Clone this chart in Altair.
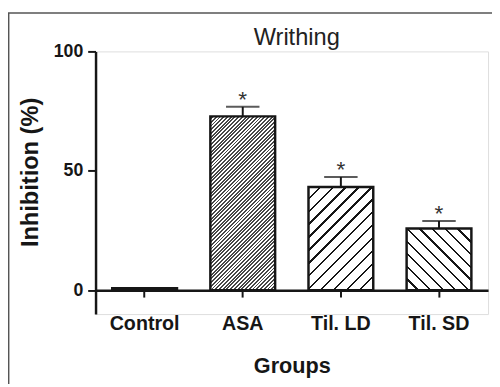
import math
import altair as alt
import pandas as pd

# ---- data ----
groups = ["Control", "ASA", "Til. LD", "Til. SD"]
means = [0.8, 72.8, 43.2, 25.8]
sems = [0.0, 4.0, 4.2, 3.2]
stars = ["", "*", "*", "*"]

title_text = "Writhing"
x_title = "Groups"
y_title = "Inhibition (%)"
y_ticks = [0, 50, 100]
y_domain = [-10, 100]

# ---- layout / style ----
W, H = 399, 267
PAD_L, PAD_T, PAD_R, PAD_B = 89, 41, 4, 71
P_INNER, P_OUTER = 0.34, 0.17
STEP = W / (len(groups) - P_INNER + 2 * P_OUTER)
BANDW = STEP * (1 - P_INNER)
PPU = H / (y_domain[1] - y_domain[0])
ZERO_OFFSET = -(H - y_domain[1] * PPU)
FONT = "Liberation Sans"
INK = "#161616"


def hatch(value, periods, frac, direction, ink=INK):
    """Striped fill built as a hard-stop linear gradient (45 degree lines).
    `periods` stripes span the bar's diagonal extent."""
    w = BANDW
    h = max(value * PPU, 1.0)
    k = (w + h) / (w * w + h * h)
    n = periods
    stops = []
    for i in range(n):
        a = i / n
        b = (i + 1 - frac) / n
        c = (i + 1) / n
        stops.append({"offset": round(a, 6), "color": "white"})
        stops.append({"offset": round(b, 6), "color": "white"})
        stops.append({"offset": round(b, 6), "color": ink})
        stops.append({"offset": round(c, 6), "color": ink})
    if direction == "/":
        g = {"gradient": "linear", "x1": 0, "y1": 0, "x2": k * w, "y2": k * h}
    else:
        g = {"gradient": "linear", "x1": 0, "y1": 1, "x2": k * w, "y2": 1 - k * h}
    g["stops"] = stops
    return g


def periods_for(value, period_h):
    return max(1, round((BANDW + value * PPU) / period_h))


df = pd.DataFrame({"group": groups, "mean": means, "sem": sems, "star": stars})

x_axis = alt.Axis(
    title=x_title, labelAngle=0, labelFont=FONT, labelFontSize=20,
    labelFontWeight="bold", labelColor=INK, labelPadding=17,
    tickSize=7, tickWidth=2, tickColor=INK, domainColor=INK, domainWidth=2.5,
    offset=ZERO_OFFSET, titleFont=FONT, titleFontSize=22, titleFontWeight="bold",
    titleColor=INK, titleBaseline="alphabetic", titleY=83.3, titleX=W / 2,
)
y_axis = alt.Axis(
    title=y_title, values=y_ticks, grid=False, labelFont=FONT, labelFontSize=18,
    labelFontWeight="bold", labelColor=INK, labelPadding=5,
    tickSize=8, tickWidth=2, tickColor=INK, domainColor=INK, domainWidth=2.5,
    titleFont=FONT, titleFontSize=24, titleFontWeight="bold", titleColor=INK,
    titleBaseline="alphabetic", titleAlign="center", titleX=-58.5, titleY=122.5,
)
x_enc = alt.X("group:N", sort=groups, axis=x_axis,
              scale=alt.Scale(paddingInner=P_INNER, paddingOuter=P_OUTER))
y_scale = alt.Scale(domain=y_domain, nice=False, zero=False)

base = alt.Chart(df)

fills = {
    "Control": "white",
    # 64 stripes -> 4 gradient-table entries per stripe (regular rendering)
    "ASA": hatch(means[1], 64, 0.5, "/", ink="#474747"),
    "Til. LD": hatch(means[2], periods_for(means[2], 13.3), 2.4 / 13.3, "/"),
    "Til. SD": hatch(means[3], periods_for(means[3], 13.3), 2.4 / 13.3, "\\"),
}

layers = []
for gname in groups:
    layers.append(
        base.transform_filter(alt.datum.group == gname)
        .mark_bar(fill=fills[gname], stroke=INK, strokeWidth=2.5, strokeJoin="miter")
        .encode(x=x_enc, y=alt.Y("mean:Q", scale=y_scale, axis=y_axis))
    )

err = base.transform_filter(alt.datum.sem > 0).transform_calculate(
    upper="datum.mean + datum.sem"
)
layers.append(
    err.mark_rule(color=INK, strokeWidth=2).encode(
        x=x_enc, y=alt.Y("mean:Q", scale=y_scale, axis=y_axis), y2="upper:Q"
    )
)
layers.append(
    err.mark_tick(orient="horizontal", size=34, thickness=2, color=INK).encode(
        x=x_enc, y=alt.Y("upper:Q", scale=y_scale, axis=y_axis)
    )
)
layers.append(
    err.mark_text(font=FONT, fontSize=23, color="#333", baseline="alphabetic", dy=0).encode(
        x=x_enc, y=alt.Y("upper:Q", scale=y_scale, axis=y_axis), text="star:N"
    )
)

one = alt.Chart(pd.DataFrame({"k": [0]}))
layers.append(
    one.mark_text(font=FONT, fontSize=24, color="#222", baseline="alphabetic", align="center")
    .encode(x=alt.value(W / 2 + 5), y=alt.value(-7), text=alt.value(title_text))
)
layers.append(
    one.mark_rule(color="#555", strokeWidth=1.5).encode(
        x=alt.value(-PAD_L + 0.7), y=alt.value(-39), y2=alt.value(H + PAD_B)
    )
)
layers.append(
    one.mark_rule(color="#555", strokeWidth=1.5).encode(
        x=alt.value(-PAD_L), x2=alt.value(W + PAD_R), y=alt.value(-39)
    )
)

chart = (
    alt.layer(*layers)
    .properties(
        width=W, height=H, autosize="none",
        padding={"left": PAD_L, "top": PAD_T, "right": PAD_R, "bottom": PAD_B},
    )
    .configure_view(stroke=None)
    .configure(background="white")
)

chart.save("out.html", embed_options={"renderer": "svg", "actions": False})
